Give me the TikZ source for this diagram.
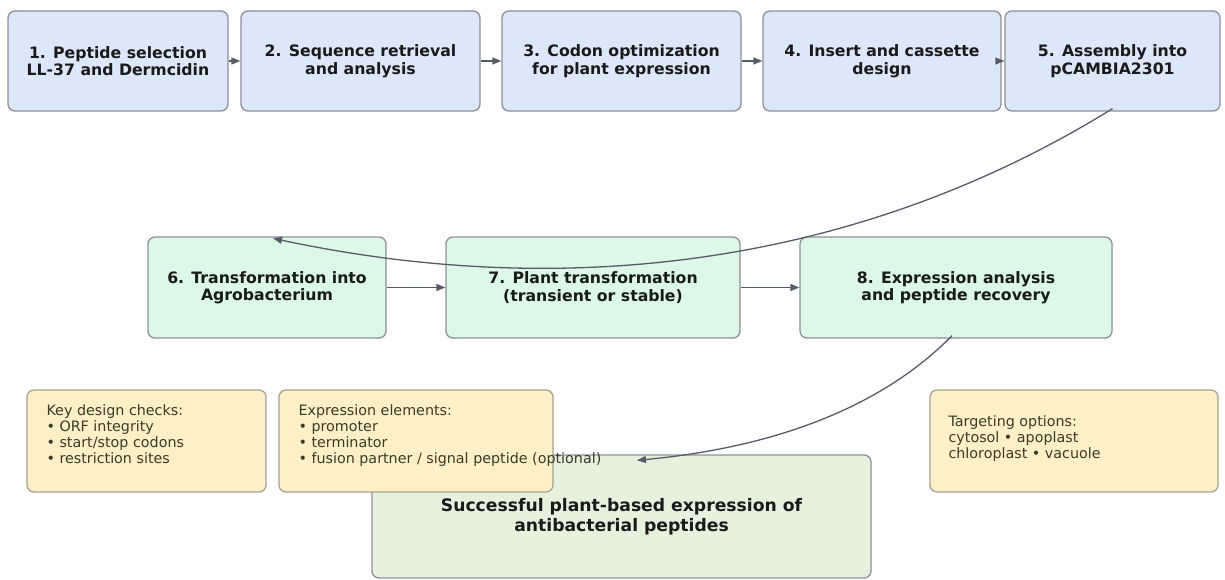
\documentclass[tikz,border=0pt]{standalone}
\usepackage{fontspec}
\setmainfont{DejaVu Sans}
\usetikzlibrary{arrows.meta,calc}
\definecolor{bluefill}{HTML}{DCE8FA}
\definecolor{greenfill}{HTML}{DCF8E6}
\definecolor{notefill}{HTML}{FDF0C6}
\definecolor{finalfill}{HTML}{E6F2DE}
\definecolor{boxline}{HTML}{8C9099}
\definecolor{noteline}{HTML}{A8A290}
\definecolor{arrowcol}{HTML}{555C66}
\definecolor{textcol}{HTML}{1A1A1A}
\definecolor{notetext}{HTML}{3A3A2A}
\begin{document}
\begin{tikzpicture}[x=1pt,y=-1pt,
  stepbox/.style={draw=boxline, line width=1.3pt, rounded corners=7pt, inner sep=0pt, align=center, text=textcol,
    font=\fontsize{15.7}{17.5}\selectfont\bfseries},
  bluebox/.style={stepbox, fill=bluefill, minimum height=100pt},
  greenbox/.style={stepbox, fill=greenfill, minimum height=101pt},
  notebox/.style={draw=noteline, line width=1.3pt, rounded corners=7pt, fill=notefill, minimum height=102pt, inner sep=0pt},
  notetxt/.style={anchor=north west, inner sep=0pt, align=left, text=notetext, font=\fontsize{14.3}{16}\selectfont},
  finalbox/.style={draw=boxline, line width=1.3pt, rounded corners=7pt, fill=finalfill, inner sep=0pt},
  flow/.style={draw=arrowcol, line width=1.3pt, -{Triangle[length=9pt,width=7pt]}}
]
\useasboundingbox (0,0) rectangle (1225,580);

% row 1
\node[bluebox, minimum width=220pt] (n1) at (118,61) {1. Peptide selection\\LL-37 and Dermcidin};
\node[bluebox, minimum width=239pt] (n2) at (360.5,61) {2. Sequence retrieval\\and analysis};
\node[bluebox, minimum width=239pt] (n3) at (621.5,61) {3. Codon optimization\\for plant expression};
\node[bluebox, minimum width=238pt] (n4) at (882,61) {4. Insert and cassette\\design};
\node[bluebox, minimum width=215pt] (n5) at (1112.5,61) {5. Assembly into\\pCAMBIA2301};

% row 2
\node[greenbox, minimum width=238pt] (n6) at (267,287.5) {6. Transformation into\\Agrobacterium};
\node[greenbox, minimum width=294pt] (n7) at (593,287.5) {7. Plant transformation\\(transient or stable)};
\node[greenbox, minimum width=312pt] (n8) at (956,287.5) {8. Expression analysis\\and peptide recovery};

% straight arrows
\draw[flow] (n1.east) -- (n2.west);
\draw[flow] (n2.east) -- (n3.west);
\draw[flow] (n3.east) -- (n4.west);
\draw[flow] (n4.east) -- (n5.west);
\draw[flow] (n6.east) -- (n7.west);
\draw[flow] (n7.east) -- (n8.west);

% final box
\node[finalbox, minimum width=499pt, minimum height=123pt, align=center, text=textcol,
  font=\fontsize{17.2}{19.5}\selectfont\bfseries] (n9) at (621.5,516.5) {Successful plant-based expression of\\antibacterial peptides};

% notes
\node[notebox, minimum width=239pt] (kd) at (146.5,441) {};
\node[notebox, minimum width=274pt] (ee) at (416,441) {};
\node[notebox, minimum width=288pt] (to) at (1074,441) {};
\node[notetxt] (kdt) at ($(kd.north west)+(20,15)$) {Key design checks:\\• ORF integrity\\• start/stop codons\\• restriction sites};
\node[notetxt] (eet) at ($(ee.north west)+(20,15)$) {Expression elements:\\• promoter\\• terminator\\• fusion partner / signal peptide (optional)};
\node[notetxt] (tot) at ($(to.north west)+(19,26)$) {Targeting options:\\cytosol • apoplast\\chloroplast • vacuole};

% curved arrows
\coordinate (n5out) at ($(n5.south)+(0,-3)$);
\coordinate (n6in) at ($(n6.north)+(6,2)$);
\coordinate (n8out) at ($(n8.south)+(-4,-3)$);
\coordinate (n9in) at ($(n9.north)+(15.5,6)$);
\draw[flow] (n5out) .. controls (858,266) and (566,301) .. (n6in);
\draw[flow] (n8out) .. controls (884,405) and (779,447) .. (n9in);
\end{tikzpicture}
\end{document}
